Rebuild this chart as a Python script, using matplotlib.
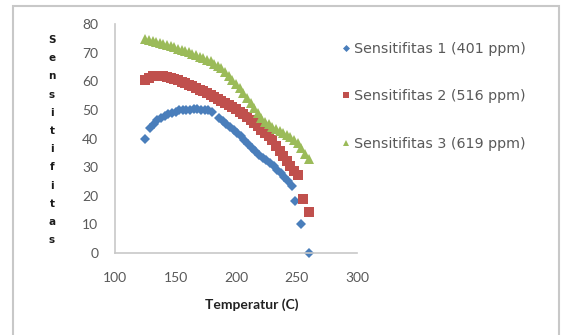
import matplotlib
matplotlib.use("Agg")

import matplotlib.pyplot as plt
from matplotlib.patches import Rectangle

# Sensitifitas 1 (401 ppm)
temp_1 = [125, 129, 132, 135, 138, 141, 144, 147, 150, 153, 156, 159, 162, 165,
          168, 171, 174, 177, 180, 186, 189, 192, 195, 198, 201, 204, 207, 210,
          213, 216, 219, 222, 225, 228, 231, 234, 237, 240, 243, 246, 249, 254, 260]
sens_1 = [40, 43.5, 45, 46.3, 47.3, 48, 48.5, 49, 49.4, 49.8, 50, 50.1, 50.1, 50.2,
          50.2, 50.1, 50, 49.8, 49.3, 47, 46, 45, 44, 43, 42, 40.8, 39.5, 38.2,
          36.8, 35.5, 34.3, 33.3, 32.5, 31.5, 30.3, 29, 27.8, 26.5, 25, 23.5, 18, 10, 0]

# Sensitifitas 2 (516 ppm)
temp_2 = [125, 128, 131, 134, 137, 140, 143, 146, 149, 152, 155, 158, 161, 164,
          167, 170, 173, 176, 179, 182, 185, 188, 191, 194, 197, 200, 203, 206,
          209, 212, 215, 218, 221, 224, 227, 230, 233, 236, 239, 242, 245, 248,
          251, 255, 260]
sens_2 = [60.5, 61.3, 61.8, 62, 62, 61.8, 61.5, 61.2, 60.8, 60.3, 59.8, 59.3, 58.8, 58.3,
          57.7, 57.1, 56.5, 55.8, 55.1, 54.5, 53.8, 53.2, 52.5, 51.8, 51.1, 50.3, 49.4, 48.4,
          47.4, 46.4, 45.3, 44.2, 43.1, 42, 40.8, 39.5, 37.5, 35.5, 33.8, 32, 30.4, 28.8,
          27.3, 19, 14.3]

# Sensitifitas 3 (619 ppm)
temp_3 = [125, 128, 131, 134, 137, 140, 143, 146, 149, 152, 155, 158, 161, 164,
          167, 170, 173, 176, 179, 182, 185, 188, 191, 194, 197, 200, 203, 206,
          209, 212, 215, 218, 221, 224, 227, 230, 233, 236, 239, 242, 245, 248,
          251, 254, 257, 260]
sens_3 = [74.8, 74.5, 74.2, 73.8, 73.4, 73, 72.6, 72.2, 71.8, 71.4, 71, 70.5, 70.1, 69.6,
          69.1, 68.6, 68.1, 67.5, 66.9, 66.2, 65.5, 64.5, 63.3, 62, 60.6, 59.2, 57.5, 55.8,
          54, 52.3, 50.5, 48.8, 47.2, 45.9, 44.9, 44, 43.3, 42.6, 42, 41.3, 40.6, 39.6,
          38.3, 36.6, 34.7, 32.8]

labels = ['Sensitifitas 1 (401 ppm)', 'Sensitifitas 2 (516 ppm)', 'Sensitifitas 3 (619 ppm)']
x_ticks = [100, 150, 200, 250, 300]
y_ticks = [0, 10, 20, 30, 40, 50, 60, 70, 80]

W, H = 561, 335
fig = plt.figure(figsize=(W / 100, H / 100), dpi=100)
ax = fig.add_axes([115 / W, 1 - 253 / H, (357 - 115) / W, (253 - 24) / H])

# chart border
fig.patches.append(Rectangle((13 / W, -0.02), (559 - 13) / W, 1 - 6 / H + 0.02,
                             transform=fig.transFigure, fill=False,
                             edgecolor='#c8c8c8', linewidth=1.5))

ax.plot(temp_1, sens_1, 'D', color='#4a7ebb', markersize=5.5, markeredgewidth=0, label=labels[0])
ax.plot(temp_2, sens_2, 's', color='#c0504d', markersize=6.5, markeredgewidth=0, label=labels[1])
ax.plot(temp_3, sens_3, '^', color='#9bbb59', markersize=7.5, markeredgewidth=0, label=labels[2])

ax.set_xlim(100, 300)
ax.set_ylim(0, 80)
ax.set_xticks(x_ticks)
ax.set_yticks(y_ticks)
ax.tick_params(length=0, labelsize=10, labelcolor='#595959')
for t in ax.get_xticklabels() + ax.get_yticklabels():
    t.set_family('Lato')
ax.tick_params(axis='x', pad=14)
ax.tick_params(axis='y', pad=12)
for s in ['top', 'right']:
    ax.spines[s].set_visible(False)
for s in ['left', 'bottom']:
    ax.spines[s].set_color('#c8c8c8')
    ax.spines[s].set_linewidth(1.2)
for line in ax.lines:
    line.set_clip_on(False)

# stacked y label
ylabel = 'Sensitifitas'
for i, ch in enumerate(ylabel):
    fig.text(52 / W, 1 - (40 + i * 18.2) / H, ch, fontsize=7.5, fontweight='bold',
             ha='center', va='center', color='#1a1a1a')

fig.text(252 / W, 1 - 305 / H, 'Temperatur (C)', fontsize=10, fontweight='bold',
         family='Lato', ha='center', va='center', color='#222222')

ax.legend(loc='upper left', bbox_to_anchor=(329 / W, 1 - 29 / H), bbox_transform=fig.transFigure,
          frameon=False, fontsize=10.3, labelspacing=2.35, handlelength=0.6,
          handletextpad=0.25, markerscale=0.65, labelcolor='#595959')

fig.savefig('out.png', dpi=100)
